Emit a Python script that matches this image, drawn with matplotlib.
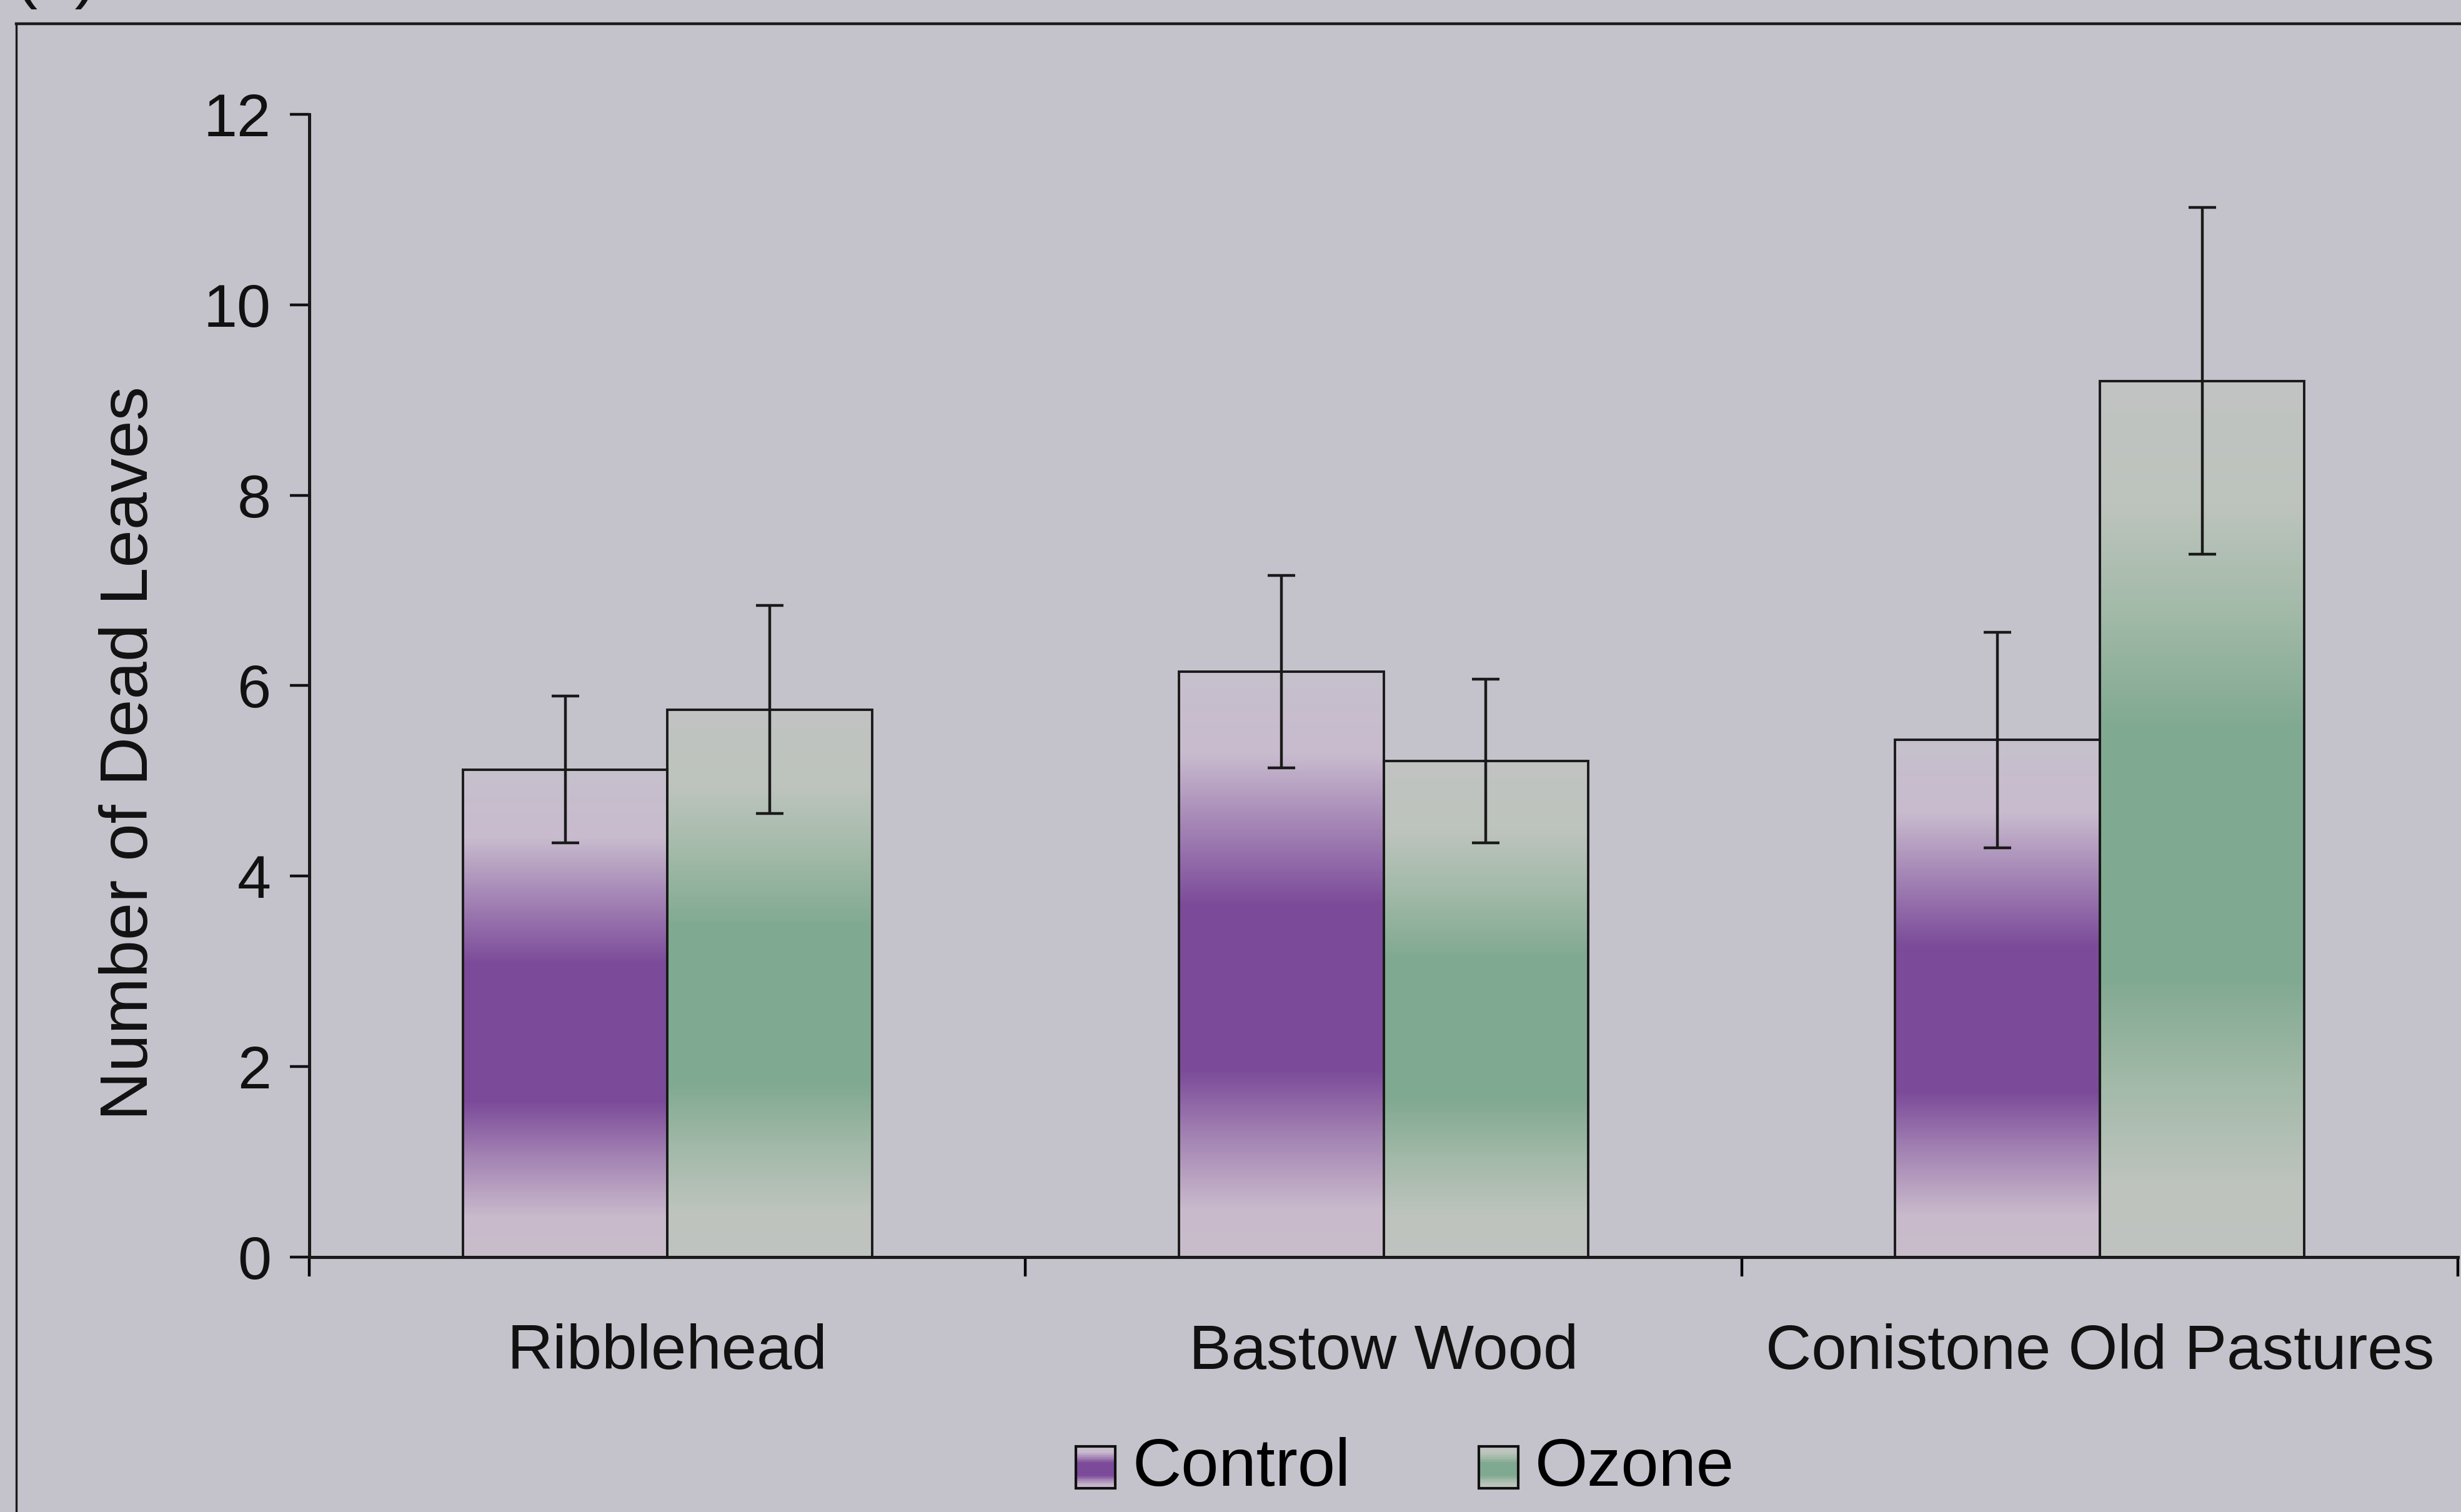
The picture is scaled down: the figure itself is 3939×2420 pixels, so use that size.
import numpy as np
import matplotlib
matplotlib.use("Agg")
import matplotlib.pyplot as plt
from matplotlib.colors import LinearSegmentedColormap
from matplotlib.patches import Rectangle
from matplotlib.lines import Line2D
from matplotlib.legend_handler import HandlerBase

# Mean dead leaves per site with error half-widths
sites = ["Ribblehead", "Bastow Wood", "Conistone Old Pastures"]
control_mean = [5.12, 6.15, 5.43]
control_err = [0.77, 1.01, 1.13]
ozone_mean = [5.75, 5.21, 9.2]
ozone_err = [1.09, 0.86, 1.82]
series_names = ["Control", "Ozone"]
y_ticks = [0, 2, 4, 6, 8, 10, 12]

bg = "#c4c3cc"
plt.rcParams["font.family"] = ["Liberation Sans", "DejaVu Sans"]

# light -> dark -> light vertical bands
stops = [0.0, 0.08, 0.2, 0.32, 0.6, 0.74, 0.86, 1.0]
purple = LinearSegmentedColormap.from_list(
    "purple_band",
    list(zip(stops, ["#c8bcca", "#c9bacc", "#a585b4", "#7b4a99", "#7b4a99",
                     "#a586b6", "#c8bbce", "#c6c0cc"])))
green = LinearSegmentedColormap.from_list(
    "green_band",
    list(zip(stops, ["#c0c3c0", "#bec4be", "#a2b9a8", "#80a991", "#80a991",
                     "#a3baa9", "#bdc4bd", "#c1c3c2"])))


class GradientSwatch(HandlerBase):
    """Legend box filled with stacked strips of a colormap."""

    def __init__(self, cmap, strips=24):
        super().__init__()
        self.cmap = cmap
        self.strips = strips

    def legend_artist(self, legend, orig_handle, fontsize, handlebox):
        x0, y0 = handlebox.xdescent, handlebox.ydescent
        w, h = handlebox.width, handlebox.height
        dh = h / self.strips
        for i in range(self.strips):
            strip = Rectangle((x0, y0 + i * dh), w, dh * 1.05, facecolor=self.cmap((i + 0.5) / self.strips),
                              edgecolor="none", transform=handlebox.get_transform())
            handlebox.add_artist(strip)
        box = Rectangle((x0, y0), w, h, facecolor="none", edgecolor="#111111", linewidth=3,
                        transform=handlebox.get_transform())
        handlebox.add_artist(box)
        return box


fig = plt.figure(figsize=(39.39, 24.2), dpi=100, facecolor=bg)
ax = fig.add_axes([0.1257, 0.1686, 0.873, 0.7558])
ax.set_facecolor(bg)

n = len(sites)
centers = np.arange(n) + 0.5
bw = 1 / 3.5
ramp = np.linspace(0, 1, 256).reshape(-1, 1)

handles = []
for means, errs, cmap, shift in [(control_mean, control_err, purple, -bw / 2),
                                 (ozone_mean, ozone_err, green, bw / 2)]:
    bars = ax.bar(centers + shift, means, width=bw, facecolor="none",
                  edgecolor="#1a1a1a", linewidth=2.8, zorder=3)
    handles.append(bars)
    for bar in bars:
        x0, h = bar.get_x(), bar.get_height()
        im = ax.imshow(ramp, cmap=cmap, origin="lower", aspect="auto",
                       extent=[x0, x0 + bw, 0, h], zorder=2)
        im.set_clip_path(bar)
    ax.errorbar(centers + shift, means, yerr=errs, fmt="none", ecolor="#1a1a1a",
                elinewidth=3.2, capsize=16, capthick=3.2, zorder=4)

ax.set_xlim(0, n)
ax.set_ylim(0, 12)
ax.set_yticks(y_ticks)
ax.set_yticklabels([str(t) for t in y_ticks], fontsize=70)
ax.tick_params(axis="y", direction="out", length=22, width=3.2, pad=22, colors="#111111")

ax.set_xticks(np.arange(n + 1))
ax.set_xticklabels([])
ax.tick_params(axis="x", which="major", direction="out", length=22, width=3.2)
ax.set_xticks(centers, minor=True)
ax.set_xticklabels(sites, minor=True, fontsize=73)
ax.tick_params(axis="x", which="minor", length=0, pad=76, colors="#111111")

for side in ["top", "right"]:
    ax.spines[side].set_visible(False)
for side in ["left", "bottom"]:
    ax.spines[side].set_linewidth(3.6)
    ax.spines[side].set_color("#1a1a1a")

ax.set_ylabel("Number of Dead Leaves", fontsize=78, color="#111111")
ax.yaxis.set_label_coords(-0.069, 0.441)

fig.legend(handles, series_names, loc="center", bbox_to_anchor=(0.571, 0.029),
           ncol=2, frameon=False, fontsize=78, handlelength=0.58, handleheight=0.58,
           handletextpad=0.25, columnspacing=1.9,
           handler_map={handles[0]: GradientSwatch(purple), handles[1]: GradientSwatch(green)})

# outer panel frame and label
fig.add_artist(Line2D([0.0065, 1.0], [0.9845, 0.9845], color="#1a1a1a", linewidth=3.2))
fig.add_artist(Line2D([0.0065, 0.0065], [0.0, 0.9845], color="#1a1a1a", linewidth=2.4))
fig.text(0.006, 1.003, "(a)", fontsize=78, va="baseline", ha="left", color="#111111")

fig.savefig("out.png", dpi=100, facecolor=bg)
